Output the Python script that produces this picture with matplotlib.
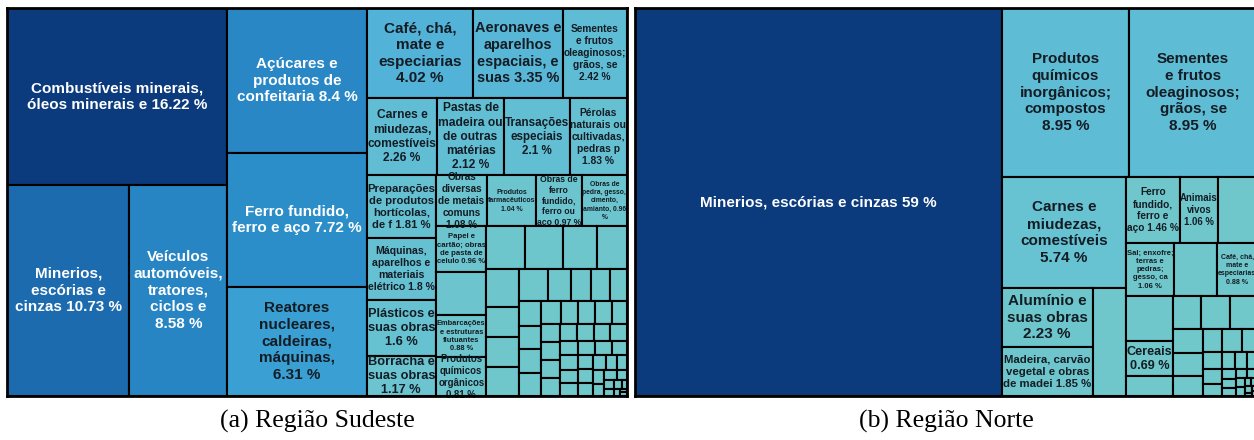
import matplotlib
matplotlib.use("Agg")
import matplotlib.pyplot as plt
from matplotlib.patches import Rectangle
from matplotlib.colors import LinearSegmentedColormap, to_rgb

# Região Sudeste: participação (%) de cada capítulo, em ordem decrescente.
# None = célula sem rótulo
sudeste_names = [
    "Combustíveis minerais,\nóleos minerais e {} %",
    "Minerios,\nescórias e\ncinzas {} %",
    "Veículos\nautomóveis,\ntratores,\nciclos e\n{} %",
    "Açúcares e\nprodutos de\nconfeitaria {} %",
    "Ferro fundido,\nferro e aço {} %",
    "Reatores\nnucleares,\ncaldeiras,\nmáquinas,\n{} %",
    "Café, chá,\nmate e\nespeciarias\n{} %",
    "Aeronaves e\naparelhos\nespaciais, e\nsuas {} %",
    "Sementes\ne frutos\noleaginosos;\ngrãos, se\n{} %",
    "Carnes e\nmiudezas,\ncomestíveis\n{} %",
    "Pastas de\nmadeira ou\nde outras\nmatérias\n{} %",
    "Transações\nespeciais\n{} %",
    "Pérolas\nnaturais ou\ncultivadas,\npedras p\n{} %",
    "Preparações\nde produtos\nhortícolas,\nde f {} %",
    "Máquinas,\naparelhos e\nmateriais\nelétrico {} %",
    "Plásticos e\nsuas obras\n{} %",
    "Borracha e\nsuas obras\n{} %",
    "Obras\ndiversas\nde metais\ncomuns\n{} %",
    "Produtos\nfarmacêuticos\n{} %",
    "Obras de\nferro\nfundido,\nferro ou\naço {} %",
    "Obras de\npedra, gesso,\ncimento,\namianto, {}\n%",
    "Papel e\ncartão; obras\nde pasta de\ncelulo {} %",
    None,
    "Embarcações\ne estruturas\nflutuantes\n{} %",
    "Produtos\nquímicos\norgânicos\n{} %",
]
sudeste_values = [16.22, 10.73, 8.58, 8.4, 7.72, 6.31, 4.02, 3.35, 2.42, 2.26,
                  2.12, 2.1, 1.83, 1.81, 1.8, 1.6, 1.17, 1.08, 1.04, 0.97,
                  0.96, 0.96, 0.9, 0.88, 0.81]
sudeste_tail = [0.69, 0.68, 0.61, 0.53, 0.52, 0.41, 0.40, 0.40, 0.38, 0.31,
                0.27, 0.25, 0.23, 0.22, 0.21, 0.21, 0.21, 0.18, 0.16, 0.16,
                0.15, 0.14, 0.14, 0.14, 0.14, 0.14, 0.13, 0.12, 0.12, 0.12,
                0.11, 0.11, 0.10, 0.10, 0.10, 0.10, 0.09, 0.09, 0.09, 0.08,
                0.08, 0.07, 0.06, 0.06, 0.05, 0.05, 0.04, 0.04, 0.03, 0.03,
                0.02, 0.02, 0.01, 0.01]

# Região Norte
norte_names = [
    "Minerios, escórias e cinzas {} %",
    "Produtos\nquímicos\ninorgânicos;\ncompostos\n{} %",
    "Sementes\ne frutos\noleaginosos;\ngrãos, se\n{} %",
    "Carnes e\nmiudezas,\ncomestíveis\n{} %",
    "Alumínio e\nsuas obras\n{} %",
    "Madeira, carvão\nvegetal e obras\nde madei {} %",
    None,
    "Ferro\nfundido,\nferro e\naço {} %",
    "Animais\nvivos\n{} %",
    None,
    "Sal; enxofre;\nterras e\npedras;\ngesso, ca\n{} %",
    None,
    "Café, chá,\nmate e\nespeciarias\n{} %",
    None,
    "Cereais\n{} %",
]
norte_values = [59, 8.95, 8.95, 5.74, 2.23, 1.85, 1.5, 1.46, 1.06, 1.06,
                1.06, 0.95, 0.88, 0.87, 0.69]
norte_tail = [0.38, 0.38, 0.38, 0.37, 0.30, 0.27, 0.25, 0.19, 0.19, 0.15,
              0.13, 0.12, 0.10, 0.09, 0.08, 0.07, 0.06, 0.05, 0.05, 0.04,
              0.04, 0.03, 0.03, 0.02, 0.02, 0.02, 0.01, 0.01, 0.01]

cmap = LinearSegmentedColormap.from_list("treemap", [
    (0.00, "#71c8ca"), (0.07, "#6bc4cf"), (0.15, "#5ebcd5"),
    (0.25, "#52b2d8"), (0.39, "#3a9fd3"), (0.48, "#2b8dc8"),
    (0.53, "#2885c4"), (0.66, "#1c6baf"), (1.00, "#0b3b7d")])


def pivot_size(values, x, y, w, h, idx=None, out=None):
    # ordered treemap, pivot by size (values already sorted, so pivot = first)
    if idx is None:
        idx = list(range(len(values)))
        out = {}
    if not idx:
        return out
    if len(idx) == 1:
        out[idx[0]] = (x, y, w, h)
        return out
    total = sum(values[i] for i in idx)
    p, rest = idx[0], idx[1:]
    wide = w >= h
    best_k, best_r = 0, None
    s = values[p]
    for k in range(len(rest) + 1):
        if k:
            s += values[rest[k - 1]]
        if wide:
            a, b = w * s / total, h * values[p] / s
        else:
            a, b = h * s / total, w * values[p] / s
        r = max(a / b, b / a)
        if best_r is None or r < best_r:
            best_k, best_r = k, r
    l2, l3 = rest[:best_k], rest[best_k:]
    s = values[p] + sum(values[i] for i in l2)
    if wide:
        cw, ph = w * s / total, h * values[p] / s
        out[p] = (x, y, cw, ph)
        pivot_size(values, x, y + ph, cw, h - ph, l2, out)
        pivot_size(values, x + cw, y, w - cw, h, l3, out)
    else:
        rh, pw = h * s / total, w * values[p] / s
        out[p] = (x, y, pw, rh)
        pivot_size(values, x + pw, y, w - pw, rh, l2, out)
        pivot_size(values, x, y + rh, w, h - rh, l3, out)
    return out


def draw_treemap(ax, names, values):
    fig = ax.figure
    pos = ax.get_position()
    W = pos.width * fig.get_figwidth() * fig.dpi
    H = pos.height * fig.get_figheight() * fig.dpi
    ax.set_xlim(0, W)
    ax.set_ylim(H, 0)
    rects = pivot_size(values, 0, 0, W, H)
    vmax = max(values)
    renderer = fig.canvas.get_renderer()
    for i, v in enumerate(values):
        x, y, w, h = rects[i]
        fc = cmap(v / vmax)
        patch = Rectangle((x, y), w, h, facecolor=fc, edgecolor="black", lw=1.5)
        ax.add_patch(patch)
        if names[i] is None:
            continue
        r, g, b = to_rgb(fc)
        tc = "white" if 0.299 * r + 0.587 * g + 0.114 * b < 0.5 else "#141c24"
        t = ax.text(x + w / 2, y + h / 2, names[i].format(f"{v:g}"),
                    ha="center", va="center", multialignment="center",
                    fontsize=11, fontweight="bold", color=tc,
                    family="Liberation Sans", linespacing=1.25)
        ext = t.get_window_extent(renderer)
        k = min(1.0, 0.97 * w / ext.width, 1.04 * h / ext.height)
        t.set_fontsize(11 * k)
        t.set_clip_path(patch)
    ax.set_xticks([])
    ax.set_yticks([])
    for sp in ax.spines.values():
        sp.set_linewidth(2)
        sp.set_color("black")
        sp.set_zorder(5)


fig = plt.figure(figsize=(12.54, 4.40), dpi=100)
ax1 = fig.add_axes([7 / 1254, 44 / 440, 620 / 1254, 388 / 440])
ax2 = fig.add_axes([635 / 1254, 44 / 440, 622 / 1254, 388 / 440])

draw_treemap(ax1, sudeste_names + [None] * len(sudeste_tail),
             sudeste_values + sudeste_tail)
draw_treemap(ax2, norte_names + [None] * len(norte_tail),
             norte_values + norte_tail)

fig.text(317 / 1254, 19 / 440, "(a) Região Sudeste", ha="center", va="center",
         family="Liberation Serif", fontsize=18.5)
fig.text(946 / 1254, 19 / 440, "(b) Região Norte", ha="center", va="center",
         family="Liberation Serif", fontsize=18.5)

fig.savefig("out.png", dpi=100)
